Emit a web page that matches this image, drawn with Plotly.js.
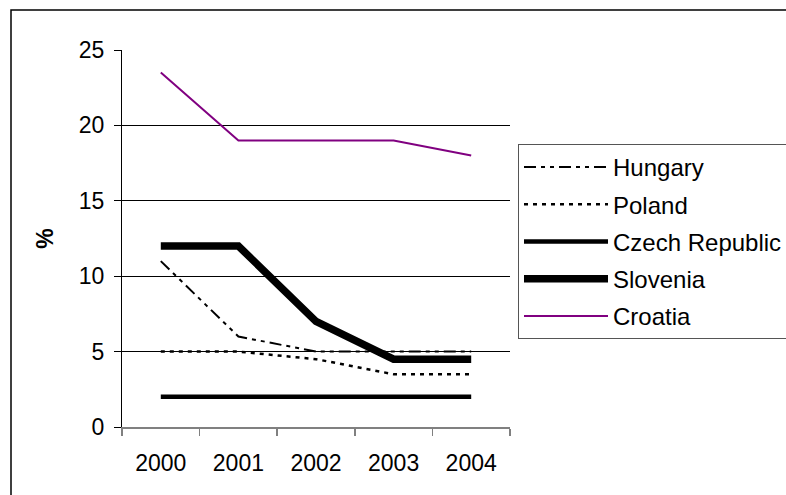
<!DOCTYPE html>
<html>
<head>
<meta charset="utf-8">
<script src="https://cdn.plot.ly/plotly-3.0.1.min.js"></script>
<style>
  html, body { margin: 0; padding: 0; background: #fff; }
  #chart { width: 786px; height: 495px; }
</style>
</head>
<body>
<div id="chart"></div>
<script>
// Years on the category axis
const years = ["2000", "2001", "2002", "2003", "2004"];

// Values per country (%)
const hungary  = [11, 6, 5, 5, 5];
const poland   = [5, 5, 4.5, 3.5, 3.5];
const czech    = [2, 2, 2, 2, 2];
const slovenia = [12, 12, 7, 4.5, 4.5];
const croatia  = [23.5, 19, 19, 19, 18];

const yTicks = [0, 5, 10, 15, 20, 25];

const font = "Liberation Sans, Arial, sans-serif";

function series(name, values, line) {
  return {
    type: "scatter",
    mode: "lines",
    name: name,
    legendgroup: name,
    x: years,
    y: values,
    line: line,
    hoverinfo: "x+y+name"
  };
}

const traces = [
  series("Hungary", hungary, { color: "#000", width: 2, dash: "12px,5px,4px,5px,4px,5px" }),
  series("Poland", poland, { color: "#000", width: 2.5, dash: "4px,5px" }),
  series("Czech Republic", czech, { color: "#000", width: 4.5 }),
  series("Slovenia", slovenia, { color: "#000", width: 7.5 }),
  series("Croatia", croatia, { color: "#800080", width: 2 })
];

// Plot-area geometry used to place the outer chart frame and legend
const L = 122, R = 276, T = 50, B = 68, W = 786, H = 495;
const pw = W - L - R, ph = H - T - B;
const px = v => (v - L) / pw;
const py = v => (H - B - v) / ph;

const layout = {
  width: W,
  height: H,
  margin: { l: L, r: R, t: T, b: B, pad: 0, autoexpand: false },
  paper_bgcolor: "#fff",
  plot_bgcolor: "#fff",
  font: { family: font, size: 23, color: "#000" },
  showlegend: true,
  legend: {
    x: px(518),
    y: py(144),
    xanchor: "left",
    yanchor: "top",
    bgcolor: "#fff",
    bordercolor: "#555",
    borderwidth: 1,
    itemwidth: 84,
    tracegroupgap: 3,
    font: { family: font, size: 24, color: "#000" }
  },
  xaxis: {
    type: "category",
    range: [-0.5, 4.5],
    tickson: "boundaries",
    ticks: "outside",
    ticklen: 7,
    tickcolor: "#808080",
    tickwidth: 1.5,
    ticklabelstandoff: 15,
    showline: true,
    linecolor: "#808080",
    linewidth: 1.5,
    showgrid: false,
    zeroline: false,
    automargin: false,
    tickfont: { family: font, size: 23, color: "#000" },
    fixedrange: true
  },
  yaxis: {
    range: [0, 25],
    tickvals: yTicks,
    ticktext: yTicks.map(String),
    ticks: "outside",
    ticklen: 7,
    tickcolor: "#000",
    ticklabelstandoff: 5,
    showline: true,
    linecolor: "#000",
    linewidth: 1,
    showgrid: true,
    gridcolor: "#000",
    gridwidth: 1,
    zeroline: false,
    automargin: false,
    tickfont: { family: font, size: 23, color: "#000" },
    title: { text: "<b>%</b>", font: { family: font, size: 23, color: "#000" }, standoff: 18 },
    fixedrange: true
  },
  shapes: [
    {
      type: "rect",
      xref: "paper", yref: "paper",
      x0: px(11), x1: px(800),
      y0: py(520), y1: py(10),
      line: { color: "#000", width: 1.5 },
      fillcolor: "rgba(0,0,0,0)",
      layer: "below"
    }
  ]
};

Plotly.newPlot("chart", traces, layout, { displayModeBar: false, staticPlot: true });
</script>
</body>
</html>
